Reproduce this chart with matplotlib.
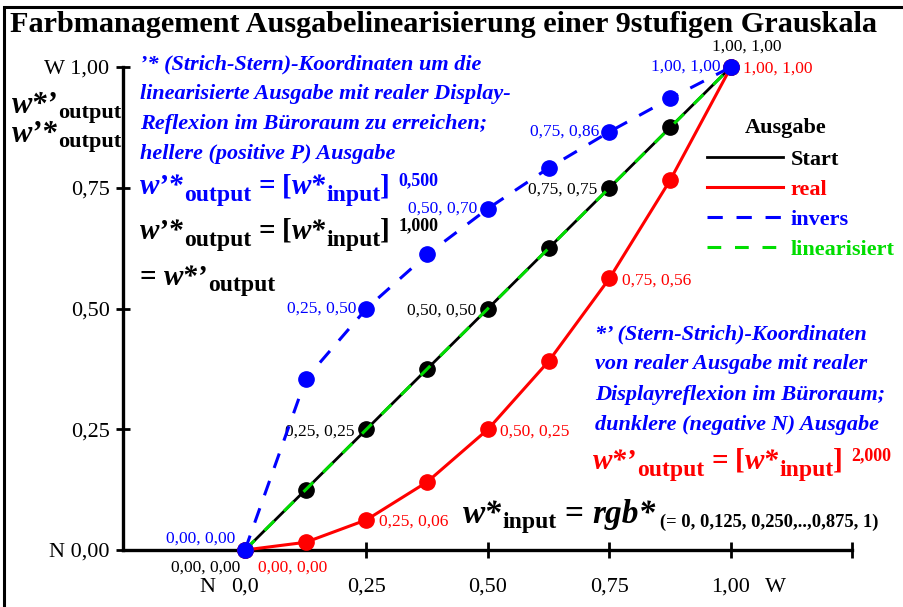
import matplotlib
matplotlib.use("Agg")
import matplotlib.pyplot as plt
from matplotlib.patches import Rectangle

plt.rcParams["font.family"] = ["Liberation Serif", "DejaVu Serif"]

W, H = 904, 607

# 9 step grey scale, input values and the four output curves
w_input = [0, 0.125, 0.25, 0.375, 0.5, 0.625, 0.75, 0.875, 1.0]
start = [0, 0.125, 0.25, 0.375, 0.5, 0.625, 0.75, 0.875, 1.0]
real = [0, 0.016, 0.0625, 0.141, 0.25, 0.391, 0.5625, 0.766, 1.0]
invers = [0, 0.354, 0.5, 0.612, 0.707, 0.791, 0.866, 0.935, 1.0]
linear = [0, 0.125, 0.25, 0.375, 0.5, 0.625, 0.75, 0.875, 1.0]

xticks = [0, 0.25, 0.5, 0.75, 1.0, 1.25]
xlabels = ["0,0", "0,25", "0,50", "0,75", "1,00", ""]
yticks = [0, 0.25, 0.5, 0.75, 1.0]
ylabels = ["N 0,00", "0,25", "0,50", "0,75", "W 1,00"]

# only every second step gets a coordinate label
lab_idx = [0, 2, 4, 6, 8]
start_labels = ["0,00, 0,00", "0,25, 0,25", "0,50, 0,50", "0,75, 0,75", "1,00, 1,00"]
real_labels = ["0,00, 0,00", "0,25, 0,06", "0,50, 0,25", "0,75, 0,56", "1,00, 1,00"]
invers_labels = ["0,00, 0,00", "0,25, 0,50", "0,50, 0,70", "0,75, 0,86", "1,00, 1,00"]

BLUE = "#0000ff"
RED = "#ff0000"
GREEN = "#00dd00"

fig = plt.figure(figsize=(W / 100, H / 100), dpi=100)
ax = fig.add_axes([0, 0, 1, 1])
ax.patch.set_visible(False)
# data -> pixel: x 0 at 245px, 486px per unit; y 0 at 550px, 483px per unit
ax.set_xlim(-245 / 486, (W - 245) / 486)
ax.set_ylim((550 - H) / 483, 550 / 483)

# curves
l_start, = ax.plot(w_input, start, "-", color="black", lw=2.0, zorder=2)
ax.plot(w_input, start, "o", color="black", ms=11, zorder=3)
l_real, = ax.plot(w_input, real, "-", color=RED, lw=2.2, zorder=4)
ax.plot(w_input, real, "o", color=RED, ms=11, zorder=4)
l_lin, = ax.plot(w_input, linear, "--", color=GREEN, lw=2.2, dashes=(4.5, 4.5), zorder=5)
l_inv, = ax.plot(w_input, invers, "--", color=BLUE, lw=2.2, dashes=(5, 4.5), zorder=6)
ax.plot(w_input, invers, "o", color=BLUE, ms=11, zorder=6)

# axes
for s in ["top", "right"]:
    ax.spines[s].set_visible(False)
ax.spines["left"].set_position(("data", -0.25))
ax.spines["left"].set_bounds(0, 1)
ax.spines["bottom"].set_position(("data", 0))
ax.spines["bottom"].set_bounds(-0.25, 1.25)
for s in ["left", "bottom"]:
    ax.spines[s].set_linewidth(2.4)
ax.set_xticks(xticks, xlabels)
ax.set_yticks(yticks, ylabels)
ax.tick_params(axis="y", direction="inout", length=10, width=2, pad=5, labelsize=16)
ax.tick_params(axis="x", direction="inout", length=11, width=2, pad=14, labelsize=16)
ax.annotate("N", (0, 0), xytext=(-27, -27), textcoords="offset points",
            ha="center", va="center", fontsize=16)
ax.annotate("W", (1, 0), xytext=(32, -27), textcoords="offset points",
            ha="center", va="center", fontsize=16)

# coordinate labels
for k, i in enumerate(lab_idx):
    p = (w_input[i], invers[i])
    if k == 0:
        ax.annotate(invers_labels[k], p, xytext=(-7, 8.5), textcoords="offset points",
                    ha="right", va="center", color=BLUE, fontsize=12.5)
    else:
        ax.annotate(invers_labels[k], p, xytext=(-7.5, 0), textcoords="offset points",
                    ha="right", va="center", color=BLUE, fontsize=12.5)

for k, i in enumerate(lab_idx):
    p = (w_input[i], start[i])
    if k == 0:
        ax.annotate(start_labels[k], p, xytext=(-3.5, -13), textcoords="offset points",
                    ha="right", va="center", fontsize=12.5)
    elif k == 4:
        ax.annotate(start_labels[k], p, xytext=(11, 14.5), textcoords="offset points",
                    ha="center", va="center", fontsize=12.5)
    else:
        ax.annotate(start_labels[k], p, xytext=(-8.5, -1.4), textcoords="offset points",
                    ha="right", va="center", fontsize=12.5)

for k, i in enumerate(lab_idx):
    p = (w_input[i], real[i])
    dy = -13 if k == 0 else -1.4
    ax.annotate(real_labels[k], p, xytext=(9, dy), textcoords="offset points",
                ha="left", va="center", color=RED, fontsize=12.5)

# legend (heading is placed separately, like in the original it is not centred)
leg = ax.legend([l_start, l_real, l_inv, l_lin], ["Start", "real", "invers", "linearisiert"],
                loc="upper left", bbox_to_anchor=(707 / W, 1 - 149 / H),
                bbox_transform=fig.transFigure, frameon=False,
                prop=dict(weight="bold", size=16),
                labelcolor="linecolor", handlelength=3.4, handletextpad=0.35,
                labelspacing=0.43, borderpad=0, borderaxespad=0)
fig.text(745 / W, 1 - 133 / H, "Ausgabe", fontsize=16, weight="bold", va="baseline")


def rich(x, y, parts, color):
    # lays out formula pieces left to right, x / y are image pixels (y from top)
    r = fig.canvas.get_renderer()
    for part in parts:
        if len(part) == 2:  # a space of the given font size
            x += part[1] * 0.25 * 100 / 72
            continue
        s, size, style, dy = part
        t = fig.text(x / W, 1 - (y + dy) / H, s, fontsize=size, weight="bold",
                     style=style, color=color, va="baseline")
        x += t.get_window_extent(r).width


def lines(x, y0, step, texts, color, size=16):
    for n, s in enumerate(texts):
        fig.text(x / W, 1 - (y0 + n * step) / H, s, fontsize=size, weight="bold",
                 style="italic", color=color, va="baseline")


def power(x, y, lhs, expo, color):
    # w..output = [w*input] expo
    rich(x, y, [(lhs, 21, "italic", 0), ("output", 17, "normal", 7), (" ", 21),
                ("=", 21, "normal", 0), (" ", 21), ("[", 21, "normal", 0),
                ("w*", 21, "italic", 0), ("input", 17, "normal", 7), ("]", 21, "normal", 0),
                (" ", 24), (expo, 13, "normal", -9)], color)


fig.text(10 / W, 1 - 32 / H, "Farbmanagement Ausgabelinearisierung einer 9stufigen Grauskala",
         fontsize=21.8, weight="bold", va="baseline")

# y axis label
rich(12, 113, [("w*’", 22, "italic", 0), ("output", 16, "normal", 5)], "black")
rich(12, 142, [("w’*", 22, "italic", 0), ("output", 16, "normal", 5)], "black")

lines(140, 69, 30, ["’* (Strich-Stern)-Koordinaten um die",
                    "linearisierte Ausgabe mit realer Display-",
                    "Reflexion im Büroraum zu erreichen;",
                    "hellere (positive P) Ausgabe"], BLUE)

power(140, 194, "w’*", "0,500", BLUE)
power(140, 239, "w’*", "1,000", "black")
rich(140, 285, [("=", 21, "normal", 0), (" ", 21), ("w*’", 21, "italic", 0),
                ("output", 17, "normal", 6)], "black")

lines(595, 339, 30.3, ["*’ (Stern-Strich)-Koordinaten",
                       "von realer Ausgabe mit realer",
                       "Displayreflexion im Büroraum;",
                       "dunklere (negative N) Ausgabe"], BLUE)

power(593, 469, "w*’", "2,000", RED)

rich(463, 523, [("w*", 24, "italic", 0), ("input", 17, "normal", 5), (" ", 24),
                ("=", 24, "normal", 0), (" ", 24), ("rgb*", 24, "italic", 0), (" ", 13),
                ("(= 0, 0,125, 0,250,..,0,875, 1)", 13.3, "normal", 4)], "black")

# frame around the picture (only left and top edge are inside the image)
fig.add_artist(Rectangle((4 / W, -1), 2, 2 - 6.5 / H, transform=fig.transFigure,
                         fill=False, lw=2.2, edgecolor="black"))

fig.savefig("out.png", dpi=100)
